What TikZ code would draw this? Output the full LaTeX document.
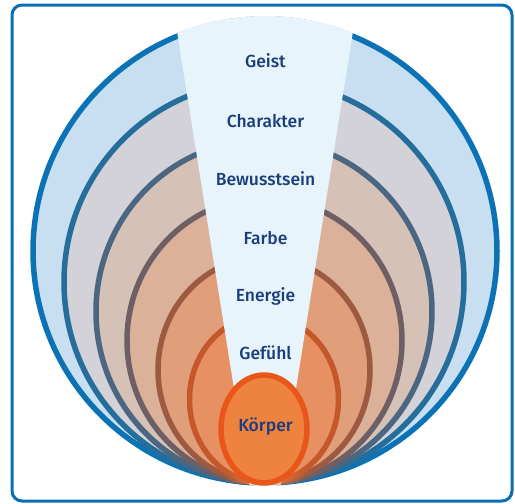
\documentclass[tikz,border=0pt]{standalone}
\usepackage{fontspec}
\setmainfont{Fira Sans}[UprightFont={* Medium}]
\usetikzlibrary{fadings}
\definecolor{framecol}{HTML}{0A6EB4}
\definecolor{lineA}{HTML}{0A72B5}
\definecolor{fillA}{HTML}{C8DFF1}
\definecolor{lineB}{HTML}{256E9B}
\definecolor{fillB}{HTML}{D2D2D8}
\definecolor{lineC}{HTML}{4A6680}
\definecolor{fillC}{HTML}{D6C1B6}
\definecolor{lineD}{HTML}{6D5F63}
\definecolor{fillD}{HTML}{DBB19A}
\definecolor{lineE}{HTML}{9C5B41}
\definecolor{fillE}{HTML}{E09F7A}
\definecolor{lineF}{HTML}{C5582B}
\definecolor{fillF}{HTML}{E79163}
\definecolor{koerperline}{HTML}{E8561A}
\definecolor{koerperfill}{HTML}{EE823F}
\definecolor{wedgefill}{HTML}{E8F4FB}
\definecolor{labelblue}{HTML}{1B3D7C}
\tikzfading[name=glow, inner color=transparent!0, outer color=transparent!100]
\tikzstyle{ring} = [line width=5.5pt]
\tikzstyle{layer} = [anchor=base, text=labelblue, font=\fontsize{17.5}{20}\selectfont]

\begin{document}
\begin{tikzpicture}[x=1pt, y=-1pt]
\useasboundingbox (0,0) rectangle (515,504);

% Frame
\draw[line width=3pt, framecol, rounded corners=10pt] (12,5) rectangle (512,501);

% Rings, outermost first
\draw[ring, draw=lineA, fill=fillA] (265,251) ellipse [x radius=232, y radius=232];
\draw[ring, draw=lineB, fill=fillB] (264,282) ellipse [x radius=200, y radius=201];
\draw[ring, draw=lineC, fill=fillC] (264,311.5) ellipse [x radius=168, y radius=171.5];
\draw[ring, draw=lineD, fill=fillD] (264.5,340.5) ellipse [x radius=137.5, y radius=142.5];
\draw[ring, draw=lineE, fill=fillE] (264,370) ellipse [x radius=106, y radius=113];
\draw[ring, draw=lineF, fill=fillF] (264,399.5) ellipse [x radius=74.5, y radius=83.5];

% Wedge
\begin{scope}
  \clip (265,251) circle [radius=235];
  \fill[wedgefill] (265,583) -- (172,0) -- (358,0) -- cycle;
\end{scope}

% Glow at the bottom
\begin{scope}
  \clip (265,251) circle [radius=234];
  \fill[koerperfill, path fading=glow, fill opacity=0.85] (265,476) circle [radius=40];
\end{scope}

% Core
\draw[ring, draw=koerperline, fill=koerperfill] (264,429) ellipse [x radius=43, y radius=54];

% Labels
\node[layer] (geist) at (265.5,67) {Geist};
\node[layer] (charakter) at (265.5,127) {Charakter};
\node[layer] (bewusstsein) at (265.5,185) {Bewusstsein};
\node[layer] (farbe) at (265.5,244) {Farbe};
\node[layer] (energie) at (265.5,301) {Energie};
\node[layer] (gefuehl) at (265.5,359) {Gefühl};
\node[layer] (koerper) at (265.5,431) {Körper};

\end{tikzpicture}
\end{document}
